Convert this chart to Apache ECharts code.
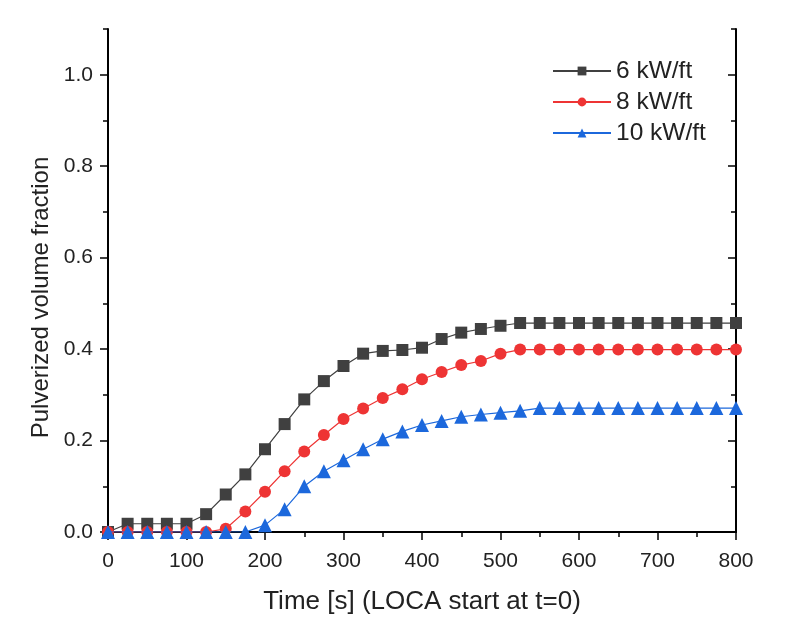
<!DOCTYPE html>
<html>
<head>
<meta charset="utf-8">
<script src="https://cdn.jsdelivr.net/npm/echarts@6/dist/echarts.min.js"></script>
<style>html,body{margin:0;padding:0;background:#fff}#c{width:802px;height:628px}</style>
</head>
<body>
<div id="c"></div>
<script>
const times = [0,25,50,75,100,125,150,175,200,225,250,275,300,325,350,375,400,425,450,475,500,525,550,575,600,625,650,675,700,725,750,775,800];
const s6 = [0,0.018,0.018,0.018,0.018,0.039,0.082,0.126,0.181,0.236,0.290,0.330,0.363,0.390,0.396,0.398,0.403,0.422,0.436,0.444,0.451,0.457,0.457,0.457,0.457,0.457,0.457,0.457,0.457,0.457,0.457,0.457,0.457];
const s8 = [0,0,0,0,0,0,0.007,0.045,0.088,0.133,0.176,0.212,0.247,0.270,0.293,0.312,0.334,0.350,0.365,0.374,0.390,0.399,0.399,0.399,0.399,0.399,0.399,0.399,0.399,0.399,0.399,0.399,0.399];
const s10 = [0,0,0,0,0,0,0,0,0.015,0.050,0.100,0.133,0.157,0.181,0.203,0.220,0.234,0.243,0.252,0.257,0.261,0.265,0.271,0.271,0.271,0.271,0.271,0.271,0.271,0.271,0.271,0.271,0.271];
const names = ['6 kW/ft','8 kW/ft','10 kW/ft'];
const xTicks = [0,100,200,300,400,500,600,700,800];
const yTicks = [0,0.2,0.4,0.6,0.8,1.0];

const FONT = 'Liberation Sans, Arial, sans-serif';
const chart = echarts.init(document.getElementById('c'));
const axLine = {show:true, lineStyle:{color:'#000', width:2}};
function mk(d){ return times.map((t,i)=>[t,d[i]]); }
chart.setOption({
  animation:false,
  backgroundColor:'#fff',
  grid:{left:108, right:66, top:29, bottom:96},
  legend:{
    orient:'vertical', left:547, top:53, itemWidth:58, itemHeight:11, itemGap:5,
    textStyle:{fontFamily:FONT, fontSize:24.5, color:'#222', lineHeight:26},
    data:names
  },
  xAxis:[
    {type:'value', min:0, max:800, interval:100, position:'bottom',
     axisLine:axLine, splitLine:{show:false},
     axisTick:{show:true, inside:false, length:8, lineStyle:{color:'#000', width:1.5}},
     minorTick:{show:true, splitNumber:2, length:5, lineStyle:{color:'#000', width:1.5}},
     axisLabel:{fontFamily:FONT, fontSize:21, color:'#222', margin:19, customValues:xTicks},
     name:'Time [s] (LOCA start at t=0)', nameLocation:'middle', nameGap:57,
     nameTextStyle:{fontFamily:FONT, fontSize:26, color:'#222'}},
    {type:'value', min:0, max:800, interval:100, position:'top',
     axisLine:axLine, splitLine:{show:false},
     axisTick:{show:true, inside:true, length:8, lineStyle:{color:'#000', width:1.5}},
     minorTick:{show:true, splitNumber:2, length:5, lineStyle:{color:'#000', width:1.5}},
     axisLabel:{show:false}}
  ],
  yAxis:[
    {type:'value', min:0, max:1.1, interval:0.2, position:'left',
     axisLine:axLine, splitLine:{show:false},
     axisTick:{show:true, inside:false, length:8, lineStyle:{color:'#000', width:1.5}, customValues:yTicks},
     axisLabel:{fontFamily:FONT, fontSize:21, color:'#222', margin:15, customValues:yTicks,
       formatter:v=>v.toFixed(1)},
     name:'Pulverized volume fraction', nameLocation:'middle', nameGap:54,
     nameTextStyle:{fontFamily:FONT, fontSize:24, color:'#222', padding:[0,34,0,0]}},
    {type:'value', min:0, max:1.1, interval:0.1, position:'left',
     axisLine:{show:false}, splitLine:{show:false},
     axisTick:{show:true, inside:false, length:5, lineStyle:{color:'#000', width:1.5}},
     axisLabel:{show:false}},
    {type:'value', min:0, max:1.1, interval:0.2, position:'right',
     axisLine:axLine, splitLine:{show:false},
     axisTick:{show:true, inside:true, length:8, lineStyle:{color:'#000', width:1.5}, customValues:yTicks},
     axisLabel:{show:false}},
    {type:'value', min:0, max:1.1, interval:0.1, position:'right',
     axisLine:{show:false}, splitLine:{show:false},
     axisTick:{show:true, inside:true, length:5, lineStyle:{color:'#000', width:1.5}},
     axisLabel:{show:false}}
  ],
  series:[
    {name:names[0], type:'line', data:mk(s6), symbol:'rect', symbolSize:12,
     itemStyle:{color:'#404040'}, lineStyle:{color:'#404040', width:1.2}, z:3},
    {name:names[1], type:'line', data:mk(s8), symbol:'circle', symbolSize:12,
     itemStyle:{color:'#ee3434'}, lineStyle:{color:'#ee3434', width:1.2}, z:4},
    {name:names[2], type:'line', data:mk(s10), symbol:'triangle', symbolSize:14,
     itemStyle:{color:'#1c68dc'}, lineStyle:{color:'#1c68dc', width:1.2}, z:5}
  ]
});
</script>
</body>
</html>
